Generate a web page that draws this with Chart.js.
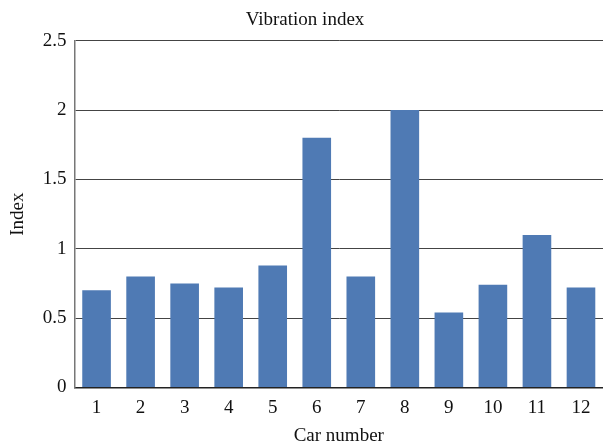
<!DOCTYPE html>
<html>
<head>
<meta charset="utf-8">
<script src="https://cdn.jsdelivr.net/npm/chart.js@4"></script>
<style>
  body { margin: 0; background: #fff; }
  #wrap { width: 603px; height: 448px; }
</style>
</head>
<body>
<div id="wrap"><canvas id="chart"></canvas></div>
<script>
const cars = ['1', '2', '3', '4', '5', '6', '7', '8', '9', '10', '11', '12'];
const vibration = [0.7, 0.8, 0.75, 0.72, 0.88, 1.8, 0.8, 2.0, 0.54, 0.74, 1.1, 0.72];

const serif = 'Liberation Serif';

const data = {
  labels: cars,
  datasets: [{
    label: 'Vibration index',
    data: vibration,
    backgroundColor: '#4f7ab4',
    barPercentage: 0.65,
    categoryPercentage: 1.0,
  }]
};

const config = {
  type: 'bar',
  data: data,
  options: {
    responsive: true,
    maintainAspectRatio: false,
    animation: false,
    layout: { padding: { top: 9, right: 0, left: 7, bottom: 1 } },
    plugins: {
      legend: { display: false },
      tooltip: { enabled: false },
      title: {
        display: true,
        text: 'Vibration index',
        color: '#111',
        font: { family: serif, size: 19, weight: 'normal' },
        padding: { top: 0, bottom: 9 }
      }
    },
    scales: {
      x: {
        grid: { display: false },
        border: { display: true, color: '#222', width: 1.5 },
        ticks: { color: '#111', font: { family: serif, size: 19 }, padding: 1 },
        title: {
          display: true,
          text: 'Car number',
          color: '#111',
          font: { family: serif, size: 19 },
          padding: { top: 4, bottom: 0 }
        }
      },
      y: {
        min: 0,
        max: 2.5,
        ticks: {
          stepSize: 0.5,
          color: '#111',
          font: { family: serif, size: 19 },
          padding: 8,
          callback: v => String(v)
        },
        grid: { color: '#444', drawTicks: false },
        border: { display: true, color: '#777', width: 1.5 },
        title: {
          display: true,
          text: 'Index',
          color: '#111',
          font: { family: serif, size: 19 },
          padding: { top: 0, bottom: 5 }
        }
      }
    }
  }
};

const myChart = new Chart(document.getElementById('chart'), config);
</script>
</body>
</html>
